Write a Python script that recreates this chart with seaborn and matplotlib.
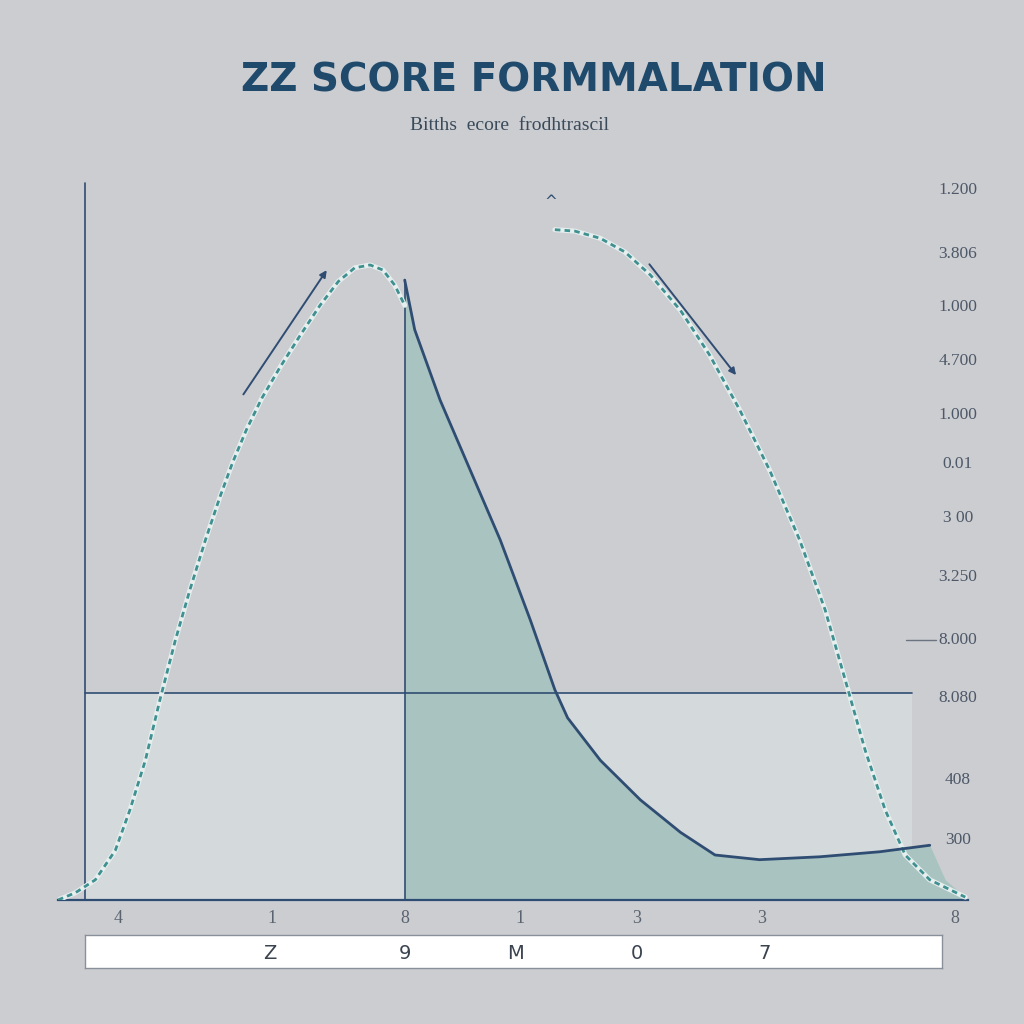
import numpy as np
import pandas as pd
import seaborn as sns
import matplotlib
matplotlib.use("Agg")
import matplotlib.pyplot as plt

# ---------------- data ----------------
left_x = [0.00, 0.19, 0.41, 0.63, 0.79, 0.96, 1.12, 1.29, 1.45, 1.62, 1.78, 1.92, 2.07, 2.24, 2.44, 2.66, 2.88, 3.08, 3.26, 3.43, 3.57, 3.70, 3.81]
left_y = [0.0, 1.0, 2.8, 6.9, 12.5, 19.4, 27.8, 36.1, 43.1, 50.0, 56.0, 60.8, 65.3, 69.7, 74.0, 78.4, 82.6, 85.9, 87.8, 88.2, 87.5, 85.4, 82.6]

tail_x = [3.81, 3.92, 4.20, 4.53, 4.86, 5.19, 5.46, 5.60, 5.96, 6.40, 6.84, 7.22, 7.71, 8.37, 9.03, 9.58]
tail_y = [86.1, 79.2, 69.4, 59.7, 50.0, 38.9, 29.2, 25.3, 19.4, 13.9, 9.4, 6.25, 5.6, 6.0, 6.7, 7.6]

right_x = [5.46, 5.68, 5.96, 6.23, 6.51, 6.84, 7.16, 7.49, 7.82, 8.15, 8.43, 8.65, 8.87, 9.09, 9.31, 9.58, 9.97]
right_y = [93.1, 92.9, 91.9, 90.0, 86.8, 81.9, 75.7, 68.1, 59.7, 50.0, 40.3, 30.6, 20.8, 12.5, 6.25, 2.8, 0.4]

threshold_y = 28.75
cut_x = 3.81

xtick_pos = [0.66, 2.35, 3.81, 5.08, 6.36, 7.73, 9.86]
xtick_labels = ["4", "1", "8", "1", "3", "3", "8"]

ylab_pos = [98.6, 89.7, 82.4, 74.9, 67.4, 60.6, 53.1, 44.9, 36.1, 28.1, 16.7, 8.3]
ylab_text = ["1.200", "3.806", "1.000", "4.700", "1.000", "0.01", "3 00", "3.250", "8.000", "8.080", "408", "300"]

box_labels = ["Z", "9", "M", "0", "7"]
box_pos = [0.216, 0.373, 0.502, 0.644, 0.793]

title = "ZZ SCORE FORMMALATION"
subtitle = "Bitths  ecore  frodhtrascil"

# ---------------- style ----------------
BG = "#cccdd1"
sns.set_theme(style="white")
plt.rcParams["font.family"] = ["DejaVu Sans"]
plt.rcParams["figure.facecolor"] = BG
plt.rcParams["axes.facecolor"] = BG

DARK = "#2f4d72"
TEAL_FILL = "#a9c3c1"
LIGHT_FILL = "#d4d9dc"
DASH = "#3f9090"

fig = plt.figure(figsize=(10.24, 10.24), dpi=100)
ax = fig.add_axes([58 / 1024, 124 / 1024, 910 / 1024, 720 / 1024])
ax.set_xlim(0, 10)
ax.set_ylim(0, 100)

# light band under threshold
ax.fill_between([0.30, 9.38], 0, threshold_y, color=LIGHT_FILL, zorder=1, lw=0)

# teal area under tail curve
fx = tail_x + [9.75, 9.97]
fy = tail_y + [2.8, 0.4]
ax.fill_between(fx, 0, fy, color=TEAL_FILL, zorder=2, lw=0)

# reference lines
ax.plot([0.30, 9.38], [threshold_y, threshold_y], color=DARK, lw=1.2, zorder=3)
ax.plot([cut_x, cut_x], [0, 86.1], color=DARK, lw=1.2, zorder=3)
ax.plot([0.30, 0.30], [0, 99.6], color=DARK, lw=1.2, zorder=3)
ax.plot([9.32, 9.65], [36.1, 36.1], color="#6b7480", lw=1.0, zorder=3)

# curves via seaborn
df_left = pd.DataFrame({"x": left_x, "y": left_y})
df_tail = pd.DataFrame({"x": tail_x, "y": tail_y})
df_right = pd.DataFrame({"x": right_x, "y": right_y})

for d in (df_left, df_right):
    sns.lineplot(data=d, x="x", y="y", ax=ax, color="#e6eeee", lw=3.6, sort=False, zorder=4)
    sns.lineplot(data=d, x="x", y="y", ax=ax, color=DASH, lw=2.0, sort=False, zorder=5,
                 linestyle=(0, (2, 1.5)))
sns.lineplot(data=df_tail, x="x", y="y", ax=ax, color=DARK, lw=2.0, sort=False, zorder=5)

# arrows
ax.annotate("", xy=(2.97, 87.8), xytext=(2.02, 69.9),
            arrowprops=dict(arrowstyle="-|>", color=DARK, lw=1.4, mutation_scale=10), zorder=6)
ax.annotate("", xy=(7.47, 72.6), xytext=(6.48, 88.6),
            arrowprops=dict(arrowstyle="-|>", color=DARK, lw=1.4, mutation_scale=10), zorder=6)
ax.text(5.41, 97.0, "^", ha="center", va="center", fontsize=11, color=DARK)

# right-side labels
for yp, t in zip(ylab_pos, ylab_text):
    ax.text(9.89, yp, t, ha="center", va="center", fontsize=12.5, color="#4d5868",
            clip_on=False, family=["Liberation Serif", "DejaVu Serif"])

# bottom ticks
ax.set_xticks(xtick_pos)
ax.set_xticklabels(xtick_labels, fontsize=13, color="#5a6470", family=["Liberation Serif", "DejaVu Serif"])
ax.tick_params(axis="x", length=0, pad=7)
ax.set_yticks([])
ax.set_xlabel("")
ax.set_ylabel("")
for s in ["top", "right", "left"]:
    ax.spines[s].set_visible(False)
ax.spines["bottom"].set_color(DARK)
ax.spines["bottom"].set_linewidth(1.6)

# bottom box
bax = fig.add_axes([85 / 1024, (1024 - 968) / 1024, 857 / 1024, 33 / 1024])
bax.set_facecolor("white")
bax.set_xticks([])
bax.set_yticks([])
for s in bax.spines.values():
    s.set_color("#8a9099")
    s.set_linewidth(1.0)
for p, t in zip(box_pos, box_labels):
    bax.text(p, 0.45, t, ha="center", va="center", fontsize=14, color="#3a4350",
             transform=bax.transAxes)

# titles
fig.text(534 / 1024, 1 - 80 / 1024, title, ha="center", va="center", fontsize=28,
         fontweight="bold", color="#1f4a6b", family=["DejaVu Sans"])
fig.text(510 / 1024, 1 - 125 / 1024, subtitle, ha="center", va="center", fontsize=14,
         color="#3a4a5a", family=["Liberation Serif", "DejaVu Serif"])

fig.savefig("out.png", dpi=100, facecolor=BG)
